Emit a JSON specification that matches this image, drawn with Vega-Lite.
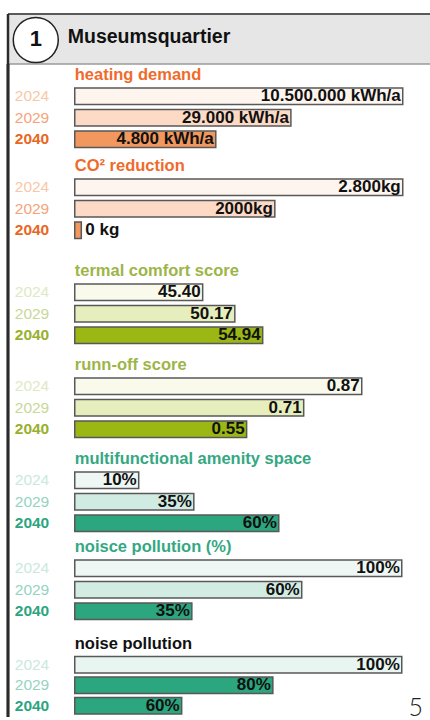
{
  "$schema": "https://vega.github.io/schema/vega-lite/v6.json",
  "padding": {"left": 6, "top": 12, "right": 0, "bottom": 0},
  "spacing": 0,
  "bounds": "flush",
  "background": "white",
  "config": {"view": {"stroke": null}, "font": "Liberation Sans"},
  "resolve": {"scale": {"x": "independent", "y": "independent", "fill": "independent", "color": "independent"}},
  "data": {"values": [
    {"metric": "heating demand", "year": "2024", "score": 100, "label": "10.500.000 kWh/a"},
    {"metric": "heating demand", "year": "2029", "score": 65.9, "label": "29.000 kWh/a"},
    {"metric": "heating demand", "year": "2040", "score": 43.0, "label": "4.800 kWh/a"},
    {"metric": "CO² reduction", "year": "2024", "score": 100, "label": "2.800kg"},
    {"metric": "CO² reduction", "year": "2029", "score": 61.0, "label": "2000kg"},
    {"metric": "CO² reduction", "year": "2040", "score": 2, "label": "0 kg"},
    {"metric": "termal comfort score", "year": "2024", "score": 39.0, "label": "45.40"},
    {"metric": "termal comfort score", "year": "2029", "score": 48.8, "label": "50.17"},
    {"metric": "termal comfort score", "year": "2040", "score": 57.3, "label": "54.94"},
    {"metric": "runn-off score", "year": "2024", "score": 87.5, "label": "0.87"},
    {"metric": "runn-off score", "year": "2029", "score": 69.8, "label": "0.71"},
    {"metric": "runn-off score", "year": "2040", "score": 52.4, "label": "0.55"},
    {"metric": "multifunctional amenity space", "year": "2024", "score": 19.5, "label": "10%"},
    {"metric": "multifunctional amenity space", "year": "2029", "score": 36.3, "label": "35%"},
    {"metric": "multifunctional amenity space", "year": "2040", "score": 62.2, "label": "60%"},
    {"metric": "noisce pollution (%)", "year": "2024", "score": 99.7, "label": "100%"},
    {"metric": "noisce pollution (%)", "year": "2029", "score": 69.2, "label": "60%"},
    {"metric": "noisce pollution (%)", "year": "2040", "score": 35.7, "label": "35%"},
    {"metric": "noise pollution", "year": "2024", "score": 99.7, "label": "100%"},
    {"metric": "noise pollution", "year": "2029", "score": 60.4, "label": "80%"},
    {"metric": "noise pollution", "year": "2040", "score": 32.6, "label": "60%"}
  ]},
  "vconcat": [
    {
      "width": 422, "height": 50,
      "data": {"values": [{"number": "1", "name": "Museumsquartier"}]},
      "view": {"fill": "#e6e6e6", "stroke": null},
      "layer": [
        {"mark": {"type": "rule", "color": "#5a5a5a", "strokeWidth": 2}, "encoding": {"y": {"datum": 1, "type": "quantitative", "scale": {"domain": [0, 1]}, "axis": null}}},
        {"mark": {"type": "rule", "color": "#9a9a9a", "strokeWidth": 1.5}, "encoding": {"y": {"datum": 0, "type": "quantitative", "scale": {"domain": [0, 1]}, "axis": null}}},
        {"mark": {"type": "rule", "color": "#2b2b2b", "strokeWidth": 2.5}, "encoding": {"x": {"datum": 0, "type": "quantitative", "scale": {"domain": [0, 100]}, "axis": null}}},
        {"mark": {"type": "point", "shape": "circle", "size": 2025, "filled": true, "fill": "white", "stroke": "#222222", "strokeWidth": 1.5, "opacity": 1},
         "encoding": {"x": {"datum": 6.58, "type": "quantitative", "scale": {"domain": [0, 100]}, "axis": null}, "y": {"datum": 0.48, "type": "quantitative", "scale": {"domain": [0, 1]}, "axis": null}}},
        {"mark": {"type": "text", "fontSize": 22, "fontWeight": "bold", "color": "#111111", "align": "center", "baseline": "alphabetic"},
         "encoding": {"x": {"datum": 6.58, "type": "quantitative", "scale": {"domain": [0, 100]}, "axis": null}, "y": {"datum": 0.36, "type": "quantitative", "scale": {"domain": [0, 1]}, "axis": null}, "text": {"field": "number"}}},
        {"mark": {"type": "text", "fontSize": 19.5, "fontWeight": "bold", "color": "#111111", "align": "left", "baseline": "alphabetic"},
         "encoding": {"x": {"datum": 14.16, "type": "quantitative", "scale": {"domain": [0, 100]}, "axis": null}, "y": {"datum": 0.426, "type": "quantitative", "scale": {"domain": [0, 1]}, "axis": null}, "text": {"field": "name"}}}
      ]
    },
    {
      "width": 422, "height": 91,
      "transform": [{"filter": "datum.metric === 'heating demand'"}],
      "layer": [
        {"mark": {"type": "rule", "color": "#2b2b2b", "strokeWidth": 2.5}, "encoding": {"x": {"datum": -20.35, "type": "quantitative", "scale": {"domain": [-20.35, 108.31], "nice": false, "zero": false}, "axis": null}}},
        {"mark": {"type": "bar", "size": 16.5, "stroke": "#585858", "strokeWidth": 1.5},
         "encoding": {"y": {"field": "year", "type": "nominal", "scale": {"domain": ["t", "2024", "2029", "2040"], "paddingInner": 0, "paddingOuter": 0.1163, "align": 0, "round": false}, "axis": null},
                      "x": {"field": "score", "type": "quantitative", "scale": {"domain": [-20.35, 108.31], "nice": false, "zero": false}, "axis": null},
                      "fill": {"field": "year", "type": "nominal", "scale": {"domain": ["2024", "2029", "2040"], "range": ["#fef5ef", "#fcdac5", "#f2975d"]}, "legend": null}}},
        {"mark": {"type": "text", "align": "left", "fontSize": 15.5, "fontWeight": {"expr": "datum.year === '2040' ? 'bold' : 'normal'"}},
         "encoding": {"y": {"field": "year", "type": "nominal"}, "x": {"datum": -18.29, "type": "quantitative"}, "text": {"field": "year"},
                      "color": {"field": "year", "type": "nominal", "scale": {"domain": ["2024", "2029", "2040"], "range": ["#f9c7a5", "#f5a47a", "#e9661f"]}, "legend": null}}},
        {"mark": {"type": "text", "fontSize": 17, "fontWeight": "bold", "color": "#111111", "align": {"expr": "datum.score < 10 ? 'left' : 'right'"}, "dx": {"expr": "datum.score < 10 ? 4 : -2"}},
         "encoding": {"y": {"field": "year", "type": "nominal"}, "x": {"field": "score", "type": "quantitative"}, "text": {"field": "label"}}},
        {"transform": [{"filter": "datum.year === '2024'"}],
         "mark": {"type": "text", "align": "left", "fontSize": 16.5, "fontWeight": "bold", "color": "#ef6b2c"},
         "encoding": {"y": {"datum": "t", "type": "nominal"}, "x": {"datum": 0, "type": "quantitative"}, "text": {"field": "metric"}}}
      ]
    },
    {
      "width": 422, "height": 105,
      "transform": [{"filter": "datum.metric === 'CO² reduction'"}],
      "layer": [
        {"mark": {"type": "rule", "color": "#2b2b2b", "strokeWidth": 2.5}, "encoding": {"x": {"datum": -20.35, "type": "quantitative", "scale": {"domain": [-20.35, 108.31], "nice": false, "zero": false}, "axis": null}}},
        {"mark": {"type": "bar", "size": 16.5, "stroke": "#585858", "strokeWidth": 1.5},
         "encoding": {"y": {"field": "year", "type": "nominal", "scale": {"domain": ["t", "2024", "2029", "2040"], "paddingInner": 0, "paddingOuter": 0.4419, "align": 0, "round": false}, "axis": null},
                      "x": {"field": "score", "type": "quantitative", "scale": {"domain": [-20.35, 108.31], "nice": false, "zero": false}, "axis": null},
                      "fill": {"field": "year", "type": "nominal", "scale": {"domain": ["2024", "2029", "2040"], "range": ["#fef5ef", "#fcdac5", "#f2975d"]}, "legend": null}}},
        {"mark": {"type": "text", "align": "left", "fontSize": 15.5, "fontWeight": {"expr": "datum.year === '2040' ? 'bold' : 'normal'"}},
         "encoding": {"y": {"field": "year", "type": "nominal"}, "x": {"datum": -18.29, "type": "quantitative"}, "text": {"field": "year"},
                      "color": {"field": "year", "type": "nominal", "scale": {"domain": ["2024", "2029", "2040"], "range": ["#f9c7a5", "#f5a47a", "#e9661f"]}, "legend": null}}},
        {"mark": {"type": "text", "fontSize": 17, "fontWeight": "bold", "color": "#111111", "align": {"expr": "datum.score < 10 ? 'left' : 'right'"}, "dx": {"expr": "datum.score < 10 ? 4 : -2"}},
         "encoding": {"y": {"field": "year", "type": "nominal"}, "x": {"field": "score", "type": "quantitative"}, "text": {"field": "label"}}},
        {"transform": [{"filter": "datum.year === '2024'"}],
         "mark": {"type": "text", "align": "left", "fontSize": 16.5, "fontWeight": "bold", "color": "#ef6b2c"},
         "encoding": {"y": {"datum": "t", "type": "nominal"}, "x": {"datum": 0, "type": "quantitative"}, "text": {"field": "metric"}}}
      ]
    },
    {
      "width": 422, "height": 94,
      "transform": [{"filter": "datum.metric === 'termal comfort score'"}],
      "layer": [
        {"mark": {"type": "rule", "color": "#2b2b2b", "strokeWidth": 2.5}, "encoding": {"x": {"datum": -20.35, "type": "quantitative", "scale": {"domain": [-20.35, 108.31], "nice": false, "zero": false}, "axis": null}}},
        {"mark": {"type": "bar", "size": 16.5, "stroke": "#585858", "strokeWidth": 1.5},
         "encoding": {"y": {"field": "year", "type": "nominal", "scale": {"domain": ["t", "2024", "2029", "2040"], "paddingInner": 0, "paddingOuter": 0.186, "align": 0, "round": false}, "axis": null},
                      "x": {"field": "score", "type": "quantitative", "scale": {"domain": [-20.35, 108.31], "nice": false, "zero": false}, "axis": null},
                      "fill": {"field": "year", "type": "nominal", "scale": {"domain": ["2024", "2029", "2040"], "range": ["#f9faeb", "#e7eebd", "#9bb714"]}, "legend": null}}},
        {"mark": {"type": "text", "align": "left", "fontSize": 15.5, "fontWeight": {"expr": "datum.year === '2040' ? 'bold' : 'normal'"}},
         "encoding": {"y": {"field": "year", "type": "nominal"}, "x": {"datum": -18.29, "type": "quantitative"}, "text": {"field": "year"},
                      "color": {"field": "year", "type": "nominal", "scale": {"domain": ["2024", "2029", "2040"], "range": ["#e0e9c4", "#c8d898", "#98b02c"]}, "legend": null}}},
        {"mark": {"type": "text", "fontSize": 17, "fontWeight": "bold", "color": "#111111", "align": {"expr": "datum.score < 10 ? 'left' : 'right'"}, "dx": {"expr": "datum.score < 10 ? 4 : -2"}},
         "encoding": {"y": {"field": "year", "type": "nominal"}, "x": {"field": "score", "type": "quantitative"}, "text": {"field": "label"}}},
        {"transform": [{"filter": "datum.year === '2024'"}],
         "mark": {"type": "text", "align": "left", "fontSize": 16.5, "fontWeight": "bold", "color": "#9db548"},
         "encoding": {"y": {"datum": "t", "type": "nominal"}, "x": {"datum": 0, "type": "quantitative"}, "text": {"field": "metric"}}}
      ]
    },
    {
      "width": 422, "height": 94,
      "transform": [{"filter": "datum.metric === 'runn-off score'"}],
      "layer": [
        {"mark": {"type": "rule", "color": "#2b2b2b", "strokeWidth": 2.5}, "encoding": {"x": {"datum": -20.35, "type": "quantitative", "scale": {"domain": [-20.35, 108.31], "nice": false, "zero": false}, "axis": null}}},
        {"mark": {"type": "bar", "size": 16.5, "stroke": "#585858", "strokeWidth": 1.5},
         "encoding": {"y": {"field": "year", "type": "nominal", "scale": {"domain": ["t", "2024", "2029", "2040"], "paddingInner": 0, "paddingOuter": 0.186, "align": 0, "round": false}, "axis": null},
                      "x": {"field": "score", "type": "quantitative", "scale": {"domain": [-20.35, 108.31], "nice": false, "zero": false}, "axis": null},
                      "fill": {"field": "year", "type": "nominal", "scale": {"domain": ["2024", "2029", "2040"], "range": ["#f9faeb", "#e7eebd", "#9bb714"]}, "legend": null}}},
        {"mark": {"type": "text", "align": "left", "fontSize": 15.5, "fontWeight": {"expr": "datum.year === '2040' ? 'bold' : 'normal'"}},
         "encoding": {"y": {"field": "year", "type": "nominal"}, "x": {"datum": -18.29, "type": "quantitative"}, "text": {"field": "year"},
                      "color": {"field": "year", "type": "nominal", "scale": {"domain": ["2024", "2029", "2040"], "range": ["#e0e9c4", "#c8d898", "#98b02c"]}, "legend": null}}},
        {"mark": {"type": "text", "fontSize": 17, "fontWeight": "bold", "color": "#111111", "align": {"expr": "datum.score < 10 ? 'left' : 'right'"}, "dx": {"expr": "datum.score < 10 ? 4 : -2"}},
         "encoding": {"y": {"field": "year", "type": "nominal"}, "x": {"field": "score", "type": "quantitative"}, "text": {"field": "label"}}},
        {"transform": [{"filter": "datum.year === '2024'"}],
         "mark": {"type": "text", "align": "left", "fontSize": 16.5, "fontWeight": "bold", "color": "#9db548"},
         "encoding": {"y": {"datum": "t", "type": "nominal"}, "x": {"datum": 0, "type": "quantitative"}, "text": {"field": "metric"}}}
      ]
    },
    {
      "width": 422, "height": 88,
      "transform": [{"filter": "datum.metric === 'multifunctional amenity space'"}],
      "layer": [
        {"mark": {"type": "rule", "color": "#2b2b2b", "strokeWidth": 2.5}, "encoding": {"x": {"datum": -20.35, "type": "quantitative", "scale": {"domain": [-20.35, 108.31], "nice": false, "zero": false}, "axis": null}}},
        {"mark": {"type": "bar", "size": 16.5, "stroke": "#585858", "strokeWidth": 1.5},
         "encoding": {"y": {"field": "year", "type": "nominal", "scale": {"domain": ["t", "2024", "2029", "2040"], "paddingInner": 0, "paddingOuter": 0.0465, "align": 0, "round": false}, "axis": null},
                      "x": {"field": "score", "type": "quantitative", "scale": {"domain": [-20.35, 108.31], "nice": false, "zero": false}, "axis": null},
                      "fill": {"field": "year", "type": "nominal", "scale": {"domain": ["2024", "2029", "2040"], "range": ["#eff7f4", "#d0ebe2", "#2ba67e"]}, "legend": null}}},
        {"mark": {"type": "text", "align": "left", "fontSize": 15.5, "fontWeight": {"expr": "datum.year === '2040' ? 'bold' : 'normal'"}},
         "encoding": {"y": {"field": "year", "type": "nominal"}, "x": {"datum": -18.29, "type": "quantitative"}, "text": {"field": "year"},
                      "color": {"field": "year", "type": "nominal", "scale": {"domain": ["2024", "2029", "2040"], "range": ["#c9e9de", "#94d4bf", "#2ca57f"]}, "legend": null}}},
        {"mark": {"type": "text", "fontSize": 17, "fontWeight": "bold", "color": "#111111", "align": {"expr": "datum.score < 10 ? 'left' : 'right'"}, "dx": {"expr": "datum.score < 10 ? 4 : -2"}},
         "encoding": {"y": {"field": "year", "type": "nominal"}, "x": {"field": "score", "type": "quantitative"}, "text": {"field": "label"}}},
        {"transform": [{"filter": "datum.year === '2024'"}],
         "mark": {"type": "text", "align": "left", "fontSize": 16.5, "fontWeight": "bold", "color": "#34a882"},
         "encoding": {"y": {"datum": "t", "type": "nominal"}, "x": {"datum": 0, "type": "quantitative"}, "text": {"field": "metric"}}}
      ]
    },
    {
      "width": 422, "height": 98,
      "transform": [{"filter": "datum.metric === 'noisce pollution (%)'"}],
      "layer": [
        {"mark": {"type": "rule", "color": "#2b2b2b", "strokeWidth": 2.5}, "encoding": {"x": {"datum": -20.35, "type": "quantitative", "scale": {"domain": [-20.35, 108.31], "nice": false, "zero": false}, "axis": null}}},
        {"mark": {"type": "bar", "size": 16.5, "stroke": "#585858", "strokeWidth": 1.5},
         "encoding": {"y": {"field": "year", "type": "nominal", "scale": {"domain": ["t", "2024", "2029", "2040"], "paddingInner": 0, "paddingOuter": 0.279, "align": 0, "round": false}, "axis": null},
                      "x": {"field": "score", "type": "quantitative", "scale": {"domain": [-20.35, 108.31], "nice": false, "zero": false}, "axis": null},
                      "fill": {"field": "year", "type": "nominal", "scale": {"domain": ["2024", "2029", "2040"], "range": ["#eef7f4", "#d3ece3", "#2ba67e"]}, "legend": null}}},
        {"mark": {"type": "text", "align": "left", "fontSize": 15.5, "fontWeight": {"expr": "datum.year === '2040' ? 'bold' : 'normal'"}},
         "encoding": {"y": {"field": "year", "type": "nominal"}, "x": {"datum": -18.29, "type": "quantitative"}, "text": {"field": "year"},
                      "color": {"field": "year", "type": "nominal", "scale": {"domain": ["2024", "2029", "2040"], "range": ["#c9e9de", "#94d4bf", "#2ca57f"]}, "legend": null}}},
        {"mark": {"type": "text", "fontSize": 17, "fontWeight": "bold", "color": "#111111", "align": {"expr": "datum.score < 10 ? 'left' : 'right'"}, "dx": {"expr": "datum.score < 10 ? 4 : -2"}},
         "encoding": {"y": {"field": "year", "type": "nominal"}, "x": {"field": "score", "type": "quantitative"}, "text": {"field": "label"}}},
        {"transform": [{"filter": "datum.year === '2024'"}],
         "mark": {"type": "text", "align": "left", "fontSize": 16.5, "fontWeight": "bold", "color": "#34a882"},
         "encoding": {"y": {"datum": "t", "type": "nominal"}, "x": {"datum": 0, "type": "quantitative"}, "text": {"field": "metric"}}}
      ]
    },
    {
      "width": 422, "height": 83,
      "transform": [{"filter": "datum.metric === 'noise pollution'"}],
      "layer": [
        {"mark": {"type": "rule", "color": "#2b2b2b", "strokeWidth": 2.5}, "encoding": {"x": {"datum": -20.35, "type": "quantitative", "scale": {"domain": [-20.35, 108.31], "nice": false, "zero": false}, "axis": null}}},
        {"mark": {"type": "bar", "size": 16.5, "stroke": "#585858", "strokeWidth": 1.5},
         "encoding": {"y": {"field": "year", "type": "nominal", "scale": {"domain": ["t", "2024", "2029", "2040"], "paddingInner": 0, "paddingOuter": 0.0244, "align": 0, "round": false}, "axis": null},
                      "x": {"field": "score", "type": "quantitative", "scale": {"domain": [-20.35, 108.31], "nice": false, "zero": false}, "axis": null},
                      "fill": {"field": "year", "type": "nominal", "scale": {"domain": ["2024", "2029", "2040"], "range": ["#e8f5f0", "#2ba67e", "#2ba67e"]}, "legend": null}}},
        {"mark": {"type": "text", "align": "left", "fontSize": 15.5, "fontWeight": {"expr": "datum.year === '2040' ? 'bold' : 'normal'"}},
         "encoding": {"y": {"field": "year", "type": "nominal"}, "x": {"datum": -18.29, "type": "quantitative"}, "text": {"field": "year"},
                      "color": {"field": "year", "type": "nominal", "scale": {"domain": ["2024", "2029", "2040"], "range": ["#c9e9de", "#94d4bf", "#2ca57f"]}, "legend": null}}},
        {"mark": {"type": "text", "fontSize": 17, "fontWeight": "bold", "color": "#111111", "align": {"expr": "datum.score < 10 ? 'left' : 'right'"}, "dx": {"expr": "datum.score < 10 ? 4 : -2"}},
         "encoding": {"y": {"field": "year", "type": "nominal"}, "x": {"field": "score", "type": "quantitative"}, "text": {"field": "label"}}},
        {"transform": [{"filter": "datum.year === '2024'"}],
         "mark": {"type": "text", "align": "left", "fontSize": 16.5, "fontWeight": "bold", "color": "#111111"},
         "encoding": {"y": {"datum": "t", "type": "nominal"}, "x": {"datum": 0, "type": "quantitative"}, "text": {"field": "metric"}}},
        {"data": {"values": [{"page": "5"}]},
         "mark": {"type": "text", "align": "center", "fontSize": 25, "font": "Lato", "fontWeight": 300, "color": "#222222", "dy": 2},
         "encoding": {"y": {"datum": "2040", "type": "nominal"}, "x": {"datum": 103.96, "type": "quantitative"}, "text": {"field": "page"}}}
      ]
    }
  ]
}
